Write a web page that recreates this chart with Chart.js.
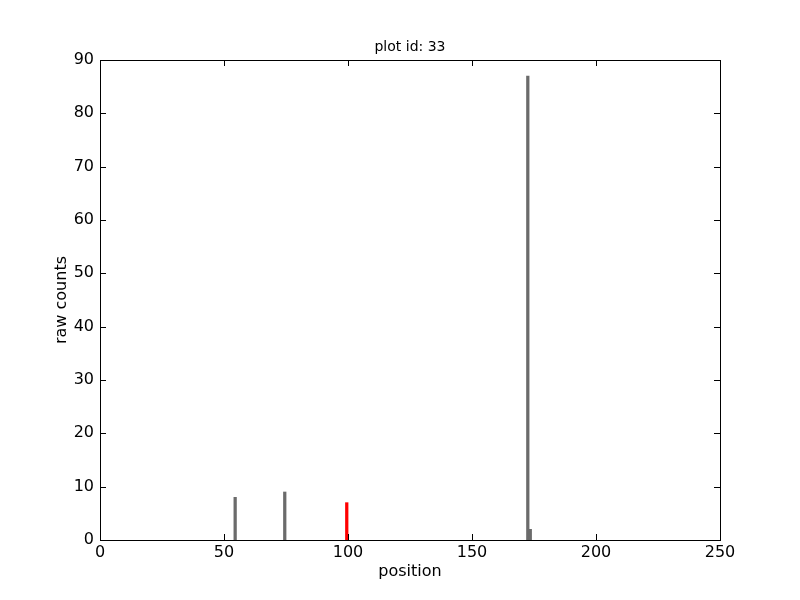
<!DOCTYPE html>
<html>
<head>
<meta charset="utf-8">
<script src="https://cdn.jsdelivr.net/npm/chart.js@4/dist/chart.umd.min.js"></script>
<style>
  html, body { margin: 0; padding: 0; background: #fff; }
  canvas { display: block; }
</style>
</head>
<body>
<canvas id="chart" width="800" height="600"></canvas>
<script>
// left edges of the bins (bar width 1) and raw counts per bin
const positions = [54, 74, 99, 172, 173];
const counts = [8, 9, 7, 87, 2];
const highlightPos = 99;
const xTicks = [0, 50, 100, 150, 200, 250];
const yTicks = [0, 10, 20, 30, 40, 50, 60, 70, 80, 90];

const points = positions.map((p, i) => ({ x: p + 0.5, y: counts[i] }));
const barColors = positions.map(p => p === highlightPos ? '#ff0000' : '#6b6b6b');

// matplotlib-ish frame with inward ticks on all four sides
const frame = {
    id: 'frame',
    afterDatasetsDraw(chart) {
        const { ctx, chartArea: a, scales } = chart;
        const len = 6;
        ctx.save();
        ctx.strokeStyle = '#000';
        ctx.lineWidth = 1;
        ctx.beginPath();
        xTicks.forEach(v => {
            const px = Math.round(scales.x.getPixelForValue(v)) + 0.5;
            ctx.moveTo(px, a.bottom); ctx.lineTo(px, a.bottom - len);
            ctx.moveTo(px, a.top); ctx.lineTo(px, a.top + len);
        });
        yTicks.forEach(v => {
            const py = Math.round(scales.y.getPixelForValue(v)) + 0.5;
            ctx.moveTo(a.left, py); ctx.lineTo(a.left + len, py);
            ctx.moveTo(a.right, py); ctx.lineTo(a.right - len, py);
        });
        ctx.stroke();
        ctx.strokeRect(a.left + 0.5, a.top + 0.5, a.right - a.left, a.bottom - a.top);
        ctx.restore();
    }
};

const ctx = document.getElementById('chart').getContext('2d');
new Chart(ctx, {
    type: 'bar',
    data: {
        datasets: [{
            data: points,
            backgroundColor: barColors,
            borderWidth: 0,
            barThickness: 2.6
        }]
    },
    options: {
        responsive: false,
        animation: false,
        layout: { padding: { right: 80, top: 0, left: 0, bottom: 0 } },
        plugins: {
            legend: { display: false },
            tooltip: { enabled: false },
            title: {
                display: true,
                fullSize: false,
                text: 'plot id: 33',
                color: '#000',
                font: { family: 'DejaVu Sans', size: 14, weight: 'normal', lineHeight: 1.2 },
                padding: { top: 38.6, bottom: 4.6 }
            }
        },
        scales: {
            x: {
                type: 'linear',
                min: 0,
                max: 250,
                offset: false,
                afterBuildTicks: s => { s.ticks = xTicks.map(v => ({ value: v })); },
                afterFit: s => { s.height = 60; },
                grid: { display: false, drawTicks: false },
                border: { display: false },
                ticks: { color: '#000', padding: 3, maxRotation: 0, font: { family: 'DejaVu Sans', size: 16 } },
                title: {
                    display: true,
                    text: 'position',
                    color: '#000',
                    font: { family: 'DejaVu Sans', size: 16 },
                    padding: { top: 0, bottom: 19 }
                }
            },
            y: {
                min: 0,
                max: 90,
                afterBuildTicks: s => { s.ticks = yTicks.map(v => ({ value: v })); },
                afterFit: s => { s.width = 100; },
                grid: { display: false, drawTicks: false },
                border: { display: false },
                ticks: { color: '#000', padding: 6, font: { family: 'DejaVu Sans', size: 16 } },
                title: {
                    display: true,
                    text: 'raw counts',
                    color: '#000',
                    font: { family: 'DejaVu Sans', size: 16 },
                    padding: { top: 52, bottom: 0 }
                }
            }
        }
    },
    plugins: [frame]
});
</script>
</body>
</html>
